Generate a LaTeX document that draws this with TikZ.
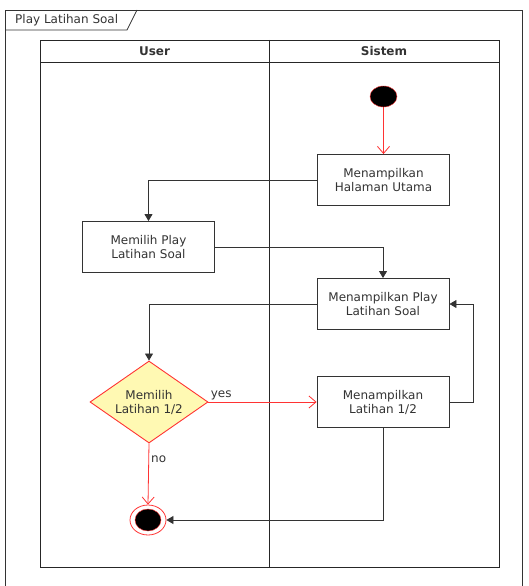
\documentclass[tikz,border=0pt]{standalone}
\usepackage{fontspec}
\setmainfont{DejaVu Sans}
\usetikzlibrary{arrows.meta,shapes.geometric}
\definecolor{flowred}{HTML}{FF3333}
\definecolor{decfill}{HTML}{FFF9B3}
\definecolor{txtgray}{HTML}{333333}
\tikzset{
  act/.style={draw=black!80,line width=0.9pt,minimum width=132pt,minimum height=51pt,align=center},
  decision/.style={diamond,draw=flowred,fill=decfill,line width=0.9pt,inner sep=0pt,
    minimum width=118pt,minimum height=82pt,aspect=1.44,align=center},
  startdot/.style={ellipse,draw=flowred,fill=black,minimum width=27pt,minimum height=21pt,inner sep=0pt},
  endring/.style={ellipse,draw=flowred,line width=0.8pt,minimum width=36pt,minimum height=30pt,inner sep=0pt},
  enddot/.style={ellipse,draw=flowred,fill=black,minimum width=26pt,minimum height=22pt,inner sep=0pt},
  link/.style={draw=black!80,line width=0.8pt,-{Triangle[length=7pt,width=8pt]}},
  flow/.style={draw=flowred,line width=0.8pt,-{Straight Barb[length=7pt,width=12pt]}},
  lbl/.style={inner sep=2pt}
}
\begin{document}
\begin{tikzpicture}[x=1pt,y=-1pt,font=\fontsize{12}{14}\selectfont,text=txtgray]
    \useasboundingbox (0,0) rectangle (529,586);
    % frame
    \draw[black!80,line width=0.8pt] (5,586) -- (5,10) -- (522,10) -- (522,586);
    \draw[black!80,line width=0.8pt] (5,30) -- (127,30) -- (137,10);
    \node[anchor=west,inner sep=0pt] (title) at (15,20) {Play Latihan Soal};
    % lanes
    \draw[black!85,line width=0.9pt] (40,40) rectangle (499,567);
    \draw[black!85,line width=0.9pt] (40,62) -- (499,62);
    \draw[black!85,line width=0.9pt] (269,40) -- (269,567);
    \node[font=\fontsize{12}{14}\selectfont\bfseries] (user) at (154.5,51) {User};
    \node[font=\fontsize{12}{14}\selectfont\bfseries] (sistem) at (384,51) {Sistem};

    \node[startdot] (start) at (383.5,96.5) {};
    \node[act] (halaman) at (383.5,180) {Menampilkan\\Halaman Utama};
    \node[act] (pilih) at (148.5,247) {Memilih Play\\Latihan Soal};
    \node[act] (play) at (383,304) {Menampilkan Play\\Latihan Soal};
    \node[decision] (dec) at (149,402) {Memilih\\Latihan 1/2};
    \node[act] (latihan) at (383,402) {Menampilkan\\Latihan 1/2};
    \node[endring] (endO) at (148,520) {};
    \node[enddot] (end) at (148,520) {};

    \draw[flow] (start) -- (halaman);
    \draw[link] (halaman.west) -| (pilih.north);
    \draw[link] (pilih.east) -| (play.north);
    \draw[link] (play.west) -| (dec.north);
    \draw[flow] (dec.east) -- node[lbl,pos=0,anchor=south west] {yes} (latihan.west);
    \draw[flow] (dec.south) -- node[lbl,pos=0.25,anchor=west] {no} (endO.north);
    \draw[link] (latihan.east) -- ++(24,0) |- (play.east);
    \draw[link] (latihan.south) |- (endO.east);
\end{tikzpicture}
\end{document}
